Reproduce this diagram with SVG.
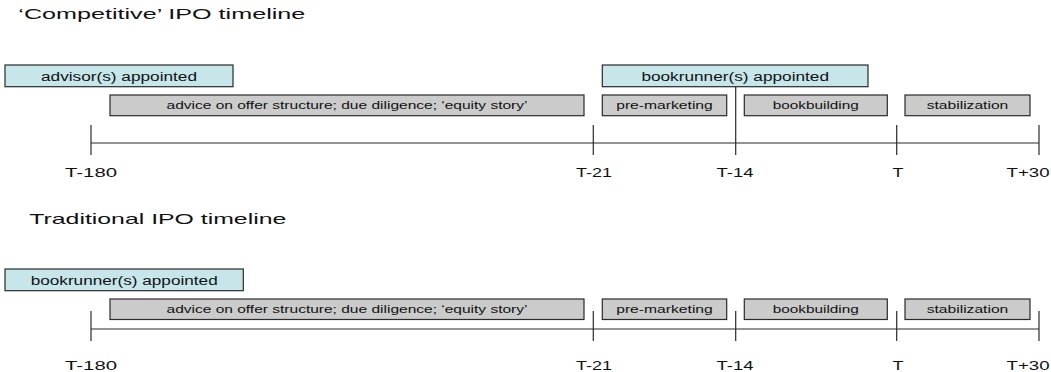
<svg xmlns="http://www.w3.org/2000/svg" width="1051" height="372" viewBox="0 0 1051 372">
<style>
text{font-family:"Liberation Sans",Arial,sans-serif;fill:#111}
.title{font-size:14.5px}
.lbl{font-size:12.5px;text-anchor:middle}
.bt{font-size:11.5px;text-anchor:middle}
.ct{font-size:12.5px;text-anchor:middle}
.cyan{fill:#C6E6EA;stroke:#2a2a2a;stroke-width:1.2}
.gray{fill:#CBCBCB;stroke:#2a2a2a;stroke-width:1.2}
.ln{stroke:#2a2a2a;stroke-width:1.2;fill:none}
</style>
<rect width="1051" height="372" fill="#fff"/>

<text class="title" x="18.3" y="19" textLength="287" lengthAdjust="spacingAndGlyphs">‘Competitive’ IPO timeline</text>
<text class="title" x="29.3" y="224" textLength="257" lengthAdjust="spacingAndGlyphs">Traditional IPO timeline</text>

<g id="connectors">
  <line class="ln" x1="91" y1="143" x2="1039" y2="143"/>
  <line class="ln" x1="91" y1="125" x2="91" y2="155"/>
  <line class="ln" x1="593.3" y1="125" x2="593.3" y2="155"/>
  <line class="ln" x1="735.7" y1="86.7" x2="735.7" y2="155"/>
  <line class="ln" x1="896.7" y1="125" x2="896.7" y2="155"/>
  <line class="ln" x1="1039" y1="125" x2="1039" y2="155"/>

  <line class="ln" x1="91" y1="329" x2="1039" y2="329"/>
  <line class="ln" x1="91" y1="311" x2="91" y2="341"/>
  <line class="ln" x1="593.3" y1="311" x2="593.3" y2="341"/>
  <line class="ln" x1="735.7" y1="311" x2="735.7" y2="341"/>
  <line class="ln" x1="896.7" y1="311" x2="896.7" y2="341"/>
  <line class="ln" x1="1039" y1="311" x2="1039" y2="341"/>
</g>

<g id="c-advisors">
  <rect class="cyan" x="5" y="65" width="228" height="21.7"/>
  <text class="ct" x="119" y="80.5" textLength="156" lengthAdjust="spacingAndGlyphs">advisor(s) appointed</text>
</g>
<g id="c-bookrunners">
  <rect class="cyan" x="602.3" y="65" width="265.7" height="21.7"/>
  <text class="ct" x="735.2" y="80.5" textLength="187.6" lengthAdjust="spacingAndGlyphs">bookrunner(s) appointed</text>
</g>
<g id="c-advice">
  <rect class="gray" x="110" y="95" width="474" height="20.7"/>
  <text class="bt" x="347" y="109.3" textLength="361" lengthAdjust="spacingAndGlyphs">advice on offer structure; due diligence; ‘equity story’</text>
</g>
<g id="c-premarketing">
  <rect class="gray" x="602.3" y="95" width="124.4" height="20.7"/>
  <text class="bt" x="664.5" y="109.3" textLength="96.6" lengthAdjust="spacingAndGlyphs">pre-marketing</text>
</g>
<g id="c-bookbuilding">
  <rect class="gray" x="744.3" y="95" width="143" height="20.7"/>
  <text class="bt" x="815.8" y="109.3" textLength="86" lengthAdjust="spacingAndGlyphs">bookbuilding</text>
</g>
<g id="c-stabilization">
  <rect class="gray" x="905" y="95" width="125" height="20.7"/>
  <text class="bt" x="967.5" y="109.3" textLength="81.6" lengthAdjust="spacingAndGlyphs">stabilization</text>
</g>

<g id="c-labels">
  <text class="lbl" x="91" y="177" textLength="52" lengthAdjust="spacingAndGlyphs">T-180</text>
  <text class="lbl" x="594" y="177" textLength="36" lengthAdjust="spacingAndGlyphs">T-21</text>
  <text class="lbl" x="735" y="177" textLength="37" lengthAdjust="spacingAndGlyphs">T-14</text>
  <text class="lbl" x="898" y="177" textLength="11" lengthAdjust="spacingAndGlyphs">T</text>
  <text class="lbl" x="1028" y="177" textLength="43" lengthAdjust="spacingAndGlyphs">T+30</text>
</g>

<g id="t-bookrunners">
  <rect class="cyan" x="5" y="269" width="238.3" height="21.7"/>
  <text class="ct" x="124.2" y="284.5" textLength="187" lengthAdjust="spacingAndGlyphs">bookrunner(s) appointed</text>
</g>
<g id="t-advice">
  <rect class="gray" x="110" y="299" width="474" height="20.5"/>
  <text class="bt" x="347" y="313.3" textLength="361" lengthAdjust="spacingAndGlyphs">advice on offer structure; due diligence; ‘equity story’</text>
</g>
<g id="t-premarketing">
  <rect class="gray" x="602.3" y="299" width="124.4" height="20.5"/>
  <text class="bt" x="664.5" y="313.3" textLength="96.6" lengthAdjust="spacingAndGlyphs">pre-marketing</text>
</g>
<g id="t-bookbuilding">
  <rect class="gray" x="744.3" y="299" width="143" height="20.5"/>
  <text class="bt" x="815.8" y="313.3" textLength="86" lengthAdjust="spacingAndGlyphs">bookbuilding</text>
</g>
<g id="t-stabilization">
  <rect class="gray" x="905" y="299" width="125" height="20.5"/>
  <text class="bt" x="967.5" y="313.3" textLength="81.6" lengthAdjust="spacingAndGlyphs">stabilization</text>
</g>

<g id="t-labels">
  <text class="lbl" x="91" y="370" textLength="52" lengthAdjust="spacingAndGlyphs">T-180</text>
  <text class="lbl" x="594" y="370" textLength="36" lengthAdjust="spacingAndGlyphs">T-21</text>
  <text class="lbl" x="735" y="370" textLength="37" lengthAdjust="spacingAndGlyphs">T-14</text>
  <text class="lbl" x="898" y="370" textLength="11" lengthAdjust="spacingAndGlyphs">T</text>
  <text class="lbl" x="1028" y="370" textLength="43" lengthAdjust="spacingAndGlyphs">T+30</text>
</g>
</svg>
